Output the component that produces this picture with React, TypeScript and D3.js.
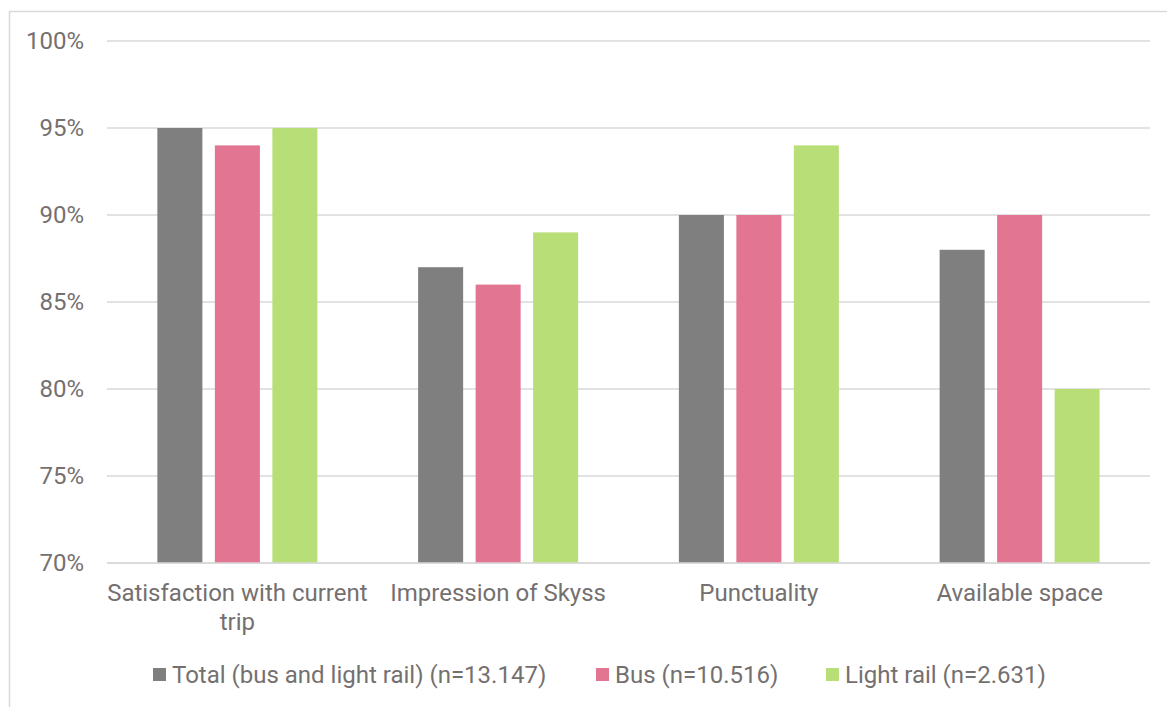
import React from 'react';
import * as d3 from 'd3';

const categories = ['Satisfaction with current trip', 'Impression of Skyss', 'Punctuality', 'Available space'];
const seriesNames = ['Total (bus and light rail) (n=13.147)', 'Bus (n=10.516)', 'Light rail (n=2.631)'];
const totalValues = [95, 87, 90, 88];
const busValues = [94, 86, 90, 90];
const lightRailValues = [95, 89, 94, 80];
const yTicks = [70, 75, 80, 85, 90, 95, 100];
const colors = ['#7f7f7f', '#e27592', '#b8de78'];

const W = 1167;
const H = 707;
const plot = { left: 107, right: 1150, top: 41, bottom: 563 };
const textColor = '#757070';
const font = 'Roboto, sans-serif';
const FS = 24;

function wrap(text: string, maxW: number, size: number): string[] {
  const c = document.createElement('canvas').getContext('2d');
  if (!c) return [text];
  c.font = `${size}px Roboto`;
  const words = text.split(' ');
  const lines: string[] = [];
  let cur = '';
  for (const w of words) {
    const t = cur ? cur + ' ' + w : w;
    if (c.measureText(t).width > maxW && cur) {
      lines.push(cur);
      cur = w;
    } else cur = t;
  }
  if (cur) lines.push(cur);
  return lines;
}

export default function App() {
  const allSeries = [totalValues, busValues, lightRailValues];
  const x0 = d3.scaleBand<string>().domain(categories).range([plot.left, plot.right]).paddingInner(0).paddingOuter(0);
  const x1 = d3.scaleBand<string>().domain(seriesNames).range([-80, 80]).paddingInner(0.217).paddingOuter(0);
  const y = d3.scaleLinear().domain([70, 100]).range([plot.bottom, plot.top]);

  const legendX = [153, 596, 826];

  return (
    <svg width={W} height={H} style={{ position: 'absolute', left: 0, top: 0 }} fontFamily={font}>
      <rect x={0} y={0} width={W} height={H} fill="#fff" />
      <rect x={9.5} y={11.5} width={W + 10} height={H + 10} fill="none" stroke="#d9d9d9" strokeWidth={1.5} />
      {yTicks.map((t) => (
        <g key={t}>
          <line x1={plot.left} x2={plot.right} y1={y(t)} y2={y(t)} stroke="#d9d9d9" strokeWidth={1.5} />
          <text x={84} y={y(t)} dy="0.35em" textAnchor="end" fontSize={FS} fill={textColor}>
            {t}%
          </text>
        </g>
      ))}
      {categories.map((cat, ci) => {
        const cx = (x0(cat) as number) + x0.bandwidth() / 2;
        return (
          <g key={cat}>
            {seriesNames.map((s, si) => {
              const v = allSeries[si][ci];
              const bx = cx + (x1(s) as number);
              return (
                <rect key={s} x={bx} y={y(v)} width={x1.bandwidth()} height={y(70) - y(v)} fill={colors[si]} />
              );
            })}
            {wrap(cat, x0.bandwidth() + 6, FS).map((line, li) => (
              <text key={li} x={cx} y={601 + li * 29} textAnchor="middle" fontSize={FS} fill={textColor}>
                {line}
              </text>
            ))}
          </g>
        );
      })}
      <line x1={plot.left} x2={plot.right} y1={y(70)} y2={y(70)} stroke="#d9d9d9" strokeWidth={1.5} />
      {seriesNames.map((s, i) => (
        <g key={s}>
          <rect x={legendX[i]} y={668} width={13} height={13} fill={colors[i]} />
          <text x={legendX[i] + 19} y={675} dy="0.35em" fontSize={FS} fill={textColor}>
            {s}
          </text>
        </g>
      ))}
    </svg>
  );
}
